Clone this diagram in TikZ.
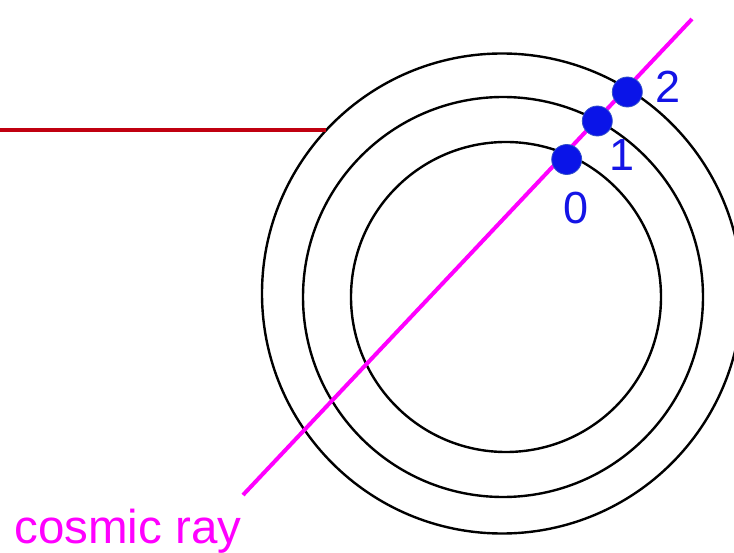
\documentclass[tikz,border=0pt]{standalone}
\usepackage{fontspec}
\setmainfont{Liberation Sans}
\definecolor{raymag}{RGB}{255,0,255}
\definecolor{darkred}{RGB}{192,0,16}
\definecolor{dotblue}{RGB}{10,20,232}
\definecolor{dotedge}{RGB}{50,80,200}
\definecolor{labblue}{RGB}{20,20,230}
\begin{document}
\begin{tikzpicture}[x=1pt,y=-1pt,
  ring/.style={circle,draw=black,line width=2.4pt,inner sep=0pt,outer sep=0pt},
  hit/.style={circle,fill=dotblue,draw=dotedge,line width=0.8pt,minimum size=30pt,inner sep=0pt},
  lab/.style={text=labblue,font=\fontsize{45}{50}\selectfont,inner sep=0pt},
  raylab/.style={text=raymag,font=\fontsize{47.5}{54}\selectfont,inner sep=0pt,anchor=base}]
\useasboundingbox (0,0) rectangle (734,553);
\node[ring,minimum size=480pt] (outer) at (502,293.5) {};
\node[ring,minimum size=400pt] (middle) at (503,297) {};
\node[ring,minimum size=310pt] (inner) at (506,297) {};
\coordinate (redstart) at (0,130);
\draw[darkred,line width=3.5pt] (outer.137 -| redstart) -- (outer.137);
\coordinate (raystart) at (243,495);
\coordinate (rayend) at (692,19);
\draw[raymag,line width=4pt] (raystart) -- (rayend);
\node[hit] (h0) at (566.7,159.5) {};
\node[hit] (h1) at (597.3,121) {};
\node[hit] (h2) at (627.3,92) {};
\node[lab] (l0) at (576,208) {0};
\node[lab] (l1) at (622,155) {1};
\node[lab] (l2) at (668,87) {2};
\node[raylab] (cr) at (128,543) {cosmic ray};
\end{tikzpicture}
\end{document}
